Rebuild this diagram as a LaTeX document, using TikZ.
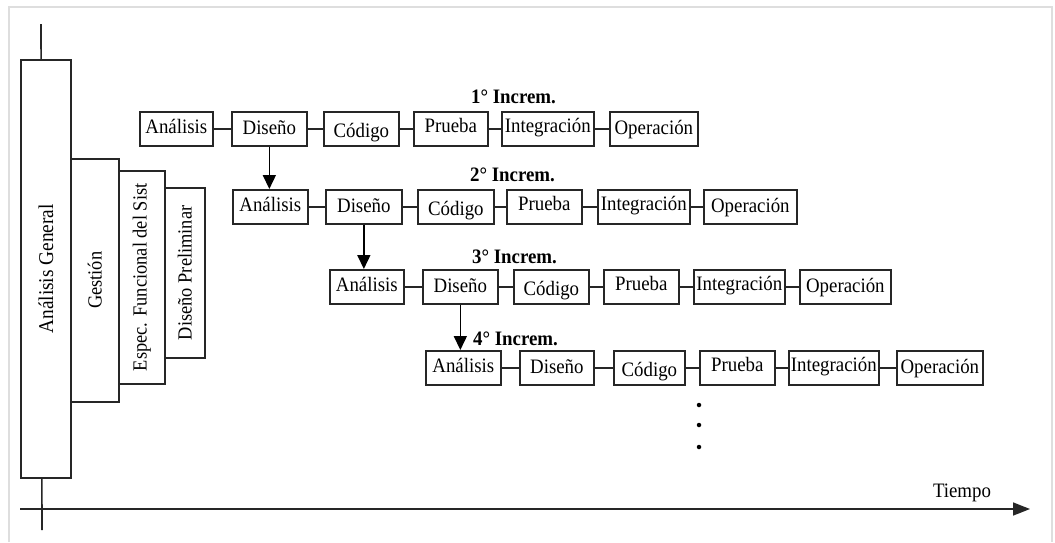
\documentclass[tikz,border=0pt]{standalone}
\usepackage{fontspec}
\setmainfont{Liberation Serif}[FakeStretch=0.92]
\usetikzlibrary{arrows.meta}
% name, x, y, width, baseline drop, text
\newcommand\pbox[6]{\node[bx,anchor=north west,minimum width=#4pt] (#1) at (#2,#3) {\raisebox{-#5pt}[0pt][0pt]{#6}};}
% name, x, y, width, height, font size, text
\newcommand\vbar[7]{\node[vb,anchor=north west,minimum width=#4pt,minimum height=#5pt,font=\fontsize{#6}{#6}\selectfont] (#1) at (#2,#3) {\rotatebox{90}{#7}};}
\begin{document}
\begin{tikzpicture}[x=1pt,y=-1pt,
  bx/.style={draw=black!85, fill=white, line width=1.7pt, inner sep=0pt, text height=0pt, text depth=0pt, minimum height=34pt, font=\fontsize{20.5}{22}\selectfont},
  vb/.style={draw=black!85, fill=white, line width=1.7pt, inner sep=0pt},
  ttl/.style={font=\bfseries\fontsize{20.5}{22}\selectfont, inner sep=0pt, anchor=west},
  conn/.style={draw=black!85, line width=1.7pt},
  down/.style={draw=black, line width=1.6pt, -{Triangle[length=14pt,width=13pt]}},
  axis/.style={draw=black!85, line width=1.6pt},
  dot/.style={circle, fill=black, inner sep=0pt, minimum size=4.5pt}]
\useasboundingbox (0,0) rectangle (1055,542);
\fill[white] (0,0) rectangle (1055,542);
\draw[black!13, line width=2pt] (9,542) -- (9,7) -- (1052,7) -- (1052,542);
% axes
\coordinate (vtop) at (41,24);
\coordinate (vbot) at (42,530);
\coordinate (hstart) at (20,509);
\coordinate (hend) at (1030,509);
\draw[axis] (vtop) -- (vbot);
\draw[axis, -{Triangle[length=17pt,width=13pt]}] (hstart) -- (hend);
\node[font=\fontsize{20.5}{22}\selectfont, inner sep=0pt] (tiempo) at (962,493) {Tiempo};
% left bars
\vbar{ag}{20}{59}{50}{418}{21}{Análisis General}
\vbar{ge}{70}{158}{48}{243}{20}{Gestión}
\vbar{ef}{118}{170}{46}{213}{20}{Espec. Funcional del Sist}
\vbar{dp}{164}{187}{40}{170}{20}{Diseño Preliminar}
% row 1
\node[ttl] (t1) at (471,97) {1° Increm.};
\pbox{a1}{139}{111}{73}{5}{Análisis}
\pbox{d1}{231}{111}{75}{6}{Diseño}
\pbox{c1}{323}{111}{75}{9}{Código}
\pbox{p1}{413}{111}{74}{4}{Prueba}
\pbox{i1}{501}{111}{92}{4}{Integración}
\pbox{o1}{609}{111}{88}{6}{Operación}
% row 2
\node[ttl] (t2) at (470,175) {2° Increm.};
\pbox{a2}{232}{189}{75}{5}{Análisis}
\pbox{d2}{325}{189}{76}{6}{Diseño}
\pbox{c2}{417}{189}{76}{9}{Código}
\pbox{p2}{506}{189}{75}{4}{Prueba}
\pbox{i2}{597}{189}{92}{4}{Integración}
\pbox{o2}{703}{189}{93}{6}{Operación}
% row 3
\node[ttl] (t3) at (472,257) {3° Increm.};
\pbox{a3}{329}{269}{74}{5}{Análisis}
\pbox{d3}{422}{269}{75}{6}{Diseño}
\pbox{c3}{513}{269}{75}{9}{Código}
\pbox{p3}{603}{269}{75}{4}{Prueba}
\pbox{i3}{693}{269}{91}{4}{Integración}
\pbox{o3}{799}{269}{91}{6}{Operación}
% row 4
\node[ttl] (t4) at (473,339) {4° Increm.};
\pbox{a4}{425}{350}{75}{5}{Análisis}
\pbox{d4}{519}{350}{74}{6}{Diseño}
\pbox{c4}{613}{350}{71}{9}{Código}
\pbox{p4}{699}{350}{75}{4}{Prueba}
\pbox{i4}{788}{350}{90}{4}{Integración}
\pbox{o4}{896}{350}{86}{6}{Operación}
% connectors
\foreach \r in {1,2,3,4}{
  \draw[conn] (a\r.east) -- (d\r.west);
  \draw[conn] (d\r.east) -- (c\r.west);
  \draw[conn] (c\r.east) -- (p\r.west);
  \draw[conn] (p\r.east) -- (i\r.west);
  \draw[conn] (i\r.east) -- (o\r.west);
}
\draw[down] (d1.south) -- (d1.south |- a2.north);
\draw[down] (d2.south) -- (d2.south |- a3.north);
\draw[down] (d3.south) -- (d3.south |- a4.north);
% dots
\node[dot] (k1) at (699,405) {};
\node[dot] (k2) at (699,425) {};
\node[dot] (k3) at (699,447) {};
\end{tikzpicture}
\end{document}
